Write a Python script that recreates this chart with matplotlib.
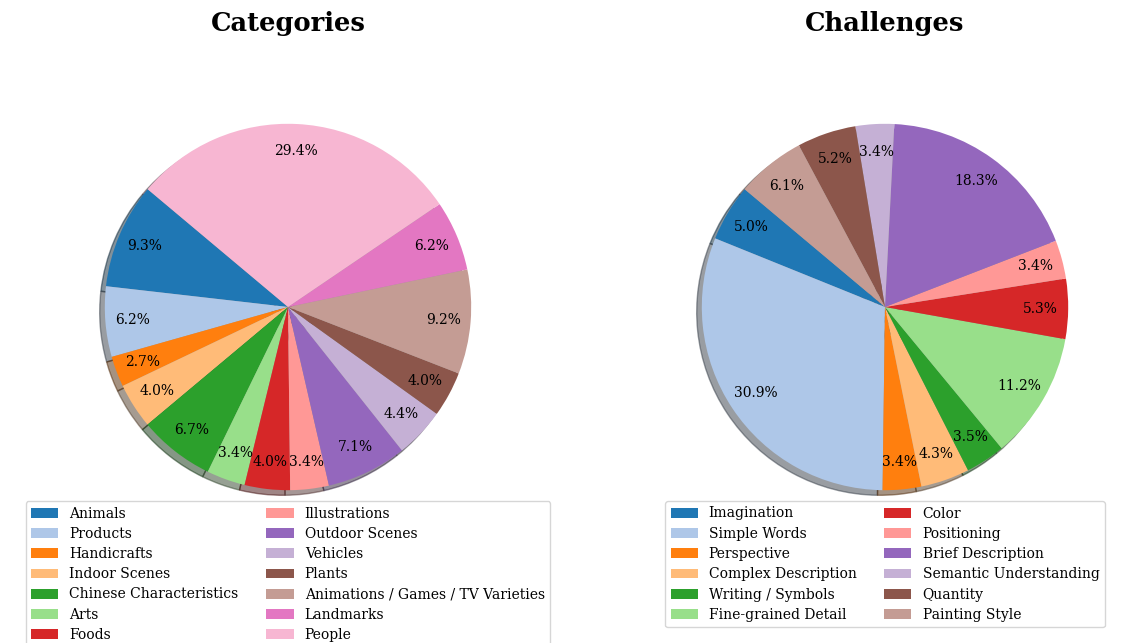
import matplotlib.pyplot as plt
import numpy as np

plt.rcParams['font.family'] = ['DejaVu Serif']

# --- data ---
cat_labels = ['Animals', 'Products', 'Handicrafts', 'Indoor Scenes', 'Chinese Characteristics',
              'Arts', 'Foods', 'Illustrations', 'Outdoor Scenes', 'Vehicles', 'Plants',
              'Animations / Games / TV Varieties', 'Landmarks', 'People']
cat_values = [9.3, 6.2, 2.7, 4.0, 6.7, 3.4, 4.0, 3.4, 7.1, 4.4, 4.0, 9.2, 6.2, 29.4]

chl_labels = ['Imagination', 'Simple Words', 'Perspective', 'Complex Description',
              'Writing / Symbols', 'Fine-grained Detail', 'Color', 'Positioning',
              'Brief Description', 'Semantic Understanding', 'Quantity', 'Painting Style']
chl_values = [5.0, 30.9, 3.4, 4.3, 3.5, 11.2, 5.3, 3.4, 18.3, 3.4, 5.2, 6.1]

W, H = 1124, 643
fig = plt.figure(figsize=(W / 100, H / 100), dpi=100)

tab20 = plt.cm.tab20.colors


def draw_pie(left_px, labels, values, title):
    # square axes of 458 px; pie radius ~183 px (limits are +-1.25)
    size = 458
    top_px = 78
    ax = fig.add_axes([left_px / W, (H - top_px - size) / H, size / W, size / H])
    wedges, _, autotexts = ax.pie(values, colors=tab20[:len(values)], startangle=140,
                                  autopct='%1.1f%%', pctdistance=0.85, shadow=True,
                                  textprops={'fontsize': 10})
    ax.text(0.5, 1 + (top_px - 24) / size, title, transform=ax.transAxes,
            ha='center', va='center', fontsize=18.5, fontweight='bold')
    ax.legend(wedges, labels, loc='upper center', bbox_to_anchor=(0.5, (536 - 494) / size),
              ncol=2, fontsize=10, labelspacing=0.45, handlelength=1.95, frameon=True)
    return ax


draw_pie(59, cat_labels, cat_values, 'Categories')
draw_pie(656, chl_labels, chl_values, 'Challenges')

fig.savefig('out.png', dpi=100)
plt.close(fig)
